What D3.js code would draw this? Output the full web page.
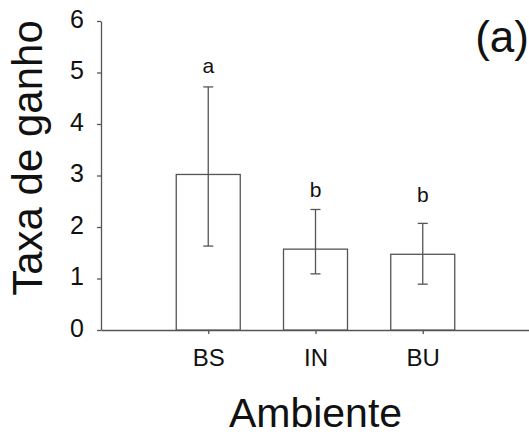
<!DOCTYPE html>
<html>
<head>
<meta charset="utf-8">
<script src="https://cdn.jsdelivr.net/npm/d3@7"></script>
<style>
html,body{margin:0;padding:0;background:#fff;}
svg{display:block;font-family:"Liberation Sans",Arial,sans-serif;}
</style>
</head>
<body>
<svg id="chart" width="529" height="441"></svg>
<script>
const categories = ["BS", "IN", "BU"];
const means = [3.02, 1.57, 1.47];
const errLow = [1.63, 1.09, 0.89];
const errHigh = [4.72, 2.34, 2.07];
const groupLetters = ["a", "b", "b"];
const letterLevels = [5.0, 2.58, 2.49];
const yTicks = [0, 1, 2, 3, 4, 5, 6];

(function () {
const svg = d3.select("#chart");
const lineColor = "#555";
const mLeft = 101, mRight = 530, mTop = 21, mBottom = 330;

const y = d3.scaleLinear().domain([0, 6]).range([mBottom, mTop]);
// five slots: empty, BS, IN, BU, empty
const x = d3.scalePoint().domain(["", ...categories, " "]).range([mLeft, mRight]);
const barW = 64;

// Y axis
const yAxis = svg.append("g").attr("transform", `translate(${mLeft},0)`)
  .call(d3.axisLeft(y).tickValues(yTicks).tickFormat(d3.format("d")).tickSize(4).tickSizeOuter(0).tickPadding(13));
yAxis.select(".domain").attr("stroke", lineColor).attr("stroke-width", 1.3);
yAxis.selectAll(".tick line").attr("stroke", lineColor).attr("stroke-width", 1.3);
yAxis.selectAll(".tick text").attr("font-size", 25).attr("fill", "#111")
  .attr("dy", "0.25em")
  .attr("font-family", "Liberation Sans, Arial, sans-serif");

// X axis
const xAxis = svg.append("g").attr("transform", `translate(0,${mBottom})`)
  .call(d3.axisBottom(x).tickValues(categories).tickSize(4).tickSizeOuter(0).tickPadding(15));
xAxis.select(".domain").attr("stroke", lineColor).attr("stroke-width", 1.3);
xAxis.selectAll(".tick line").attr("stroke", lineColor).attr("stroke-width", 1.3);
xAxis.selectAll(".tick text").attr("font-size", 24).attr("fill", "#111")
  .attr("font-family", "Liberation Sans, Arial, sans-serif");

// Bars
svg.append("g").selectAll("rect").data(categories).join("rect")
  .attr("x", d => x(d) - barW / 2)
  .attr("y", (d, i) => y(means[i]))
  .attr("width", barW)
  .attr("height", (d, i) => y(0) - y(means[i]))
  .attr("fill", "#fff").attr("stroke", lineColor).attr("stroke-width", 1.3);

// Error bars
const eb = svg.append("g").attr("stroke", lineColor).attr("stroke-width", 1.3);
categories.forEach((c, i) => {
  eb.append("line").attr("x1", x(c)).attr("x2", x(c)).attr("y1", y(errLow[i])).attr("y2", y(errHigh[i]));
  eb.append("line").attr("x1", x(c) - 5).attr("x2", x(c) + 5).attr("y1", y(errLow[i])).attr("y2", y(errLow[i]));
  eb.append("line").attr("x1", x(c) - 5).attr("x2", x(c) + 5).attr("y1", y(errHigh[i])).attr("y2", y(errHigh[i]));
});

// Group letters
svg.append("g").selectAll("text").data(categories).join("text")
  .attr("x", d => x(d))
  .attr("y", (d, i) => y(letterLevels[i]))
  .attr("text-anchor", "middle").attr("font-size", 21).attr("fill", "#111")
  .text((d, i) => groupLetters[i]);

// Axis titles
svg.append("text").attr("x", (mLeft + mRight) / 2).attr("y", 427)
  .attr("text-anchor", "middle").attr("font-size", 41).attr("fill", "#111")
  .text("Ambiente");
svg.append("text").attr("transform", `translate(42,${(18 + 298) / 2}) rotate(-90)`)
  .attr("text-anchor", "middle").attr("font-size", 42).attr("fill", "#111")
  .text("Taxa de ganho");

// Panel label
svg.append("text").attr("x", 529).attr("y", 52)
  .attr("text-anchor", "end").attr("font-size", 44).attr("fill", "#111")
  .text("(a)");
})();
</script>
</body>
</html>
